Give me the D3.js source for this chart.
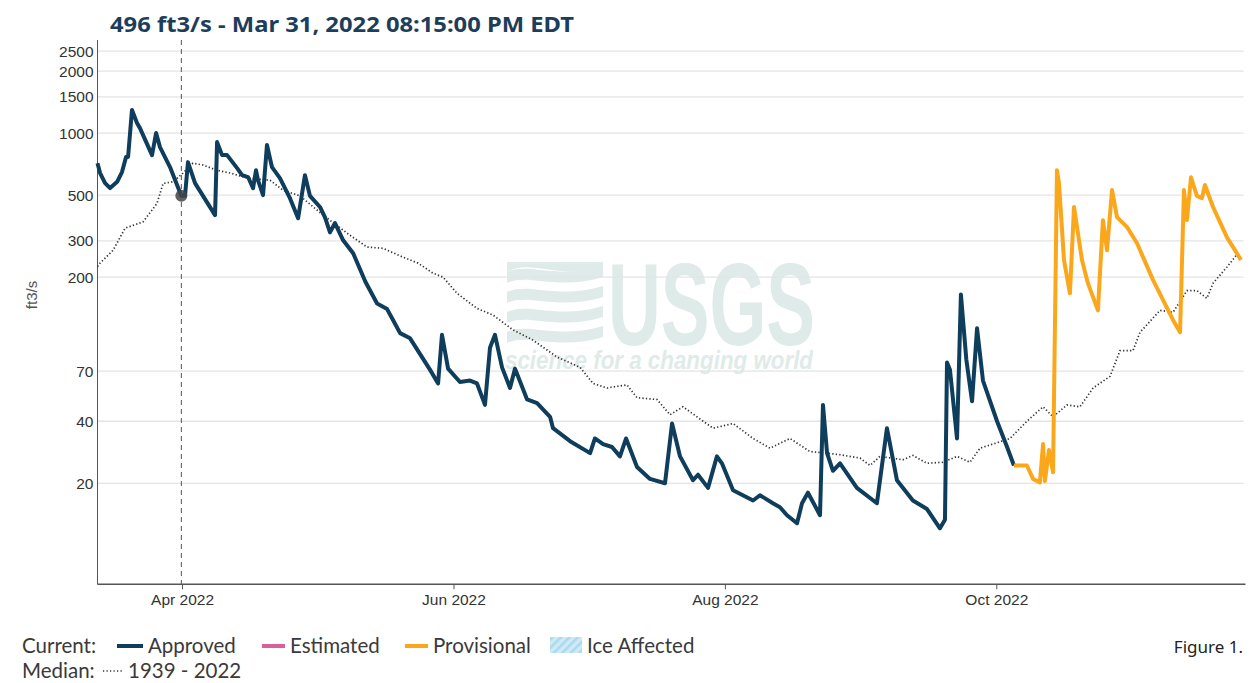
<!DOCTYPE html>
<html>
<head>
<meta charset="utf-8">
<script src="https://cdn.jsdelivr.net/npm/d3@7"></script>
<style>
body { margin: 0; background: #fff; }
svg { display: block; }
</style>
</head>
<body>
<svg id="chart" width="1258" height="683"></svg>
<script>
// discharge, ft3/s
const approved = [
    ["2022-03-13 00", 714], ["2022-03-13 14", 640], ["2022-03-14 17", 572], ["2022-03-15 20", 541],
    ["2022-03-17 10", 580], ["2022-03-18 12", 647], ["2022-03-19 10", 766], ["2022-03-19 21", 766],
    ["2022-03-20 18", 1294], ["2022-03-21 21", 1119], ["2022-03-22 13", 1057], ["2022-03-25 06", 782],
    ["2022-03-26 04", 1000], ["2022-03-27 01", 855], ["2022-03-29 07", 684], ["2022-03-31 20", 496],
    ["2022-04-01 16", 496], ["2022-04-02 08", 723], ["2022-04-03 22", 572], ["2022-04-08 10", 400],
    ["2022-04-08 21", 904], ["2022-04-10 00", 782], ["2022-04-11 03", 782], ["2022-04-13 09", 676],
    ["2022-04-14 12", 625], ["2022-04-15 20", 612], ["2022-04-16 23", 541], ["2022-04-17 15", 660],
    ["2022-04-18 02", 590], ["2022-04-19 05", 500], ["2022-04-20 02", 875], ["2022-04-21 05", 684],
    ["2022-04-23 00", 605], ["2022-04-25 06", 483], ["2022-04-27 02", 386], ["2022-04-28 15", 625],
    ["2022-04-29 18", 496], ["2022-05-02 00", 438], ["2022-05-03 03", 390], ["2022-05-04 06", 330],
    ["2022-05-05 09", 366], ["2022-05-07 05", 302], ["2022-05-09 11", 261], ["2022-05-12 05", 190],
    ["2022-05-14 20", 149], ["2022-05-17 02", 140], ["2022-05-18 10", 124], ["2022-05-20 00", 107],
    ["2022-05-22 06", 101], ["2022-05-26 18", 71], ["2022-05-28 13", 61], ["2022-05-29 10", 105],
    ["2022-05-30 19", 72], ["2022-06-02 11", 62], ["2022-06-04 17", 63], ["2022-06-06 07", 61],
    ["2022-06-08 02", 48], ["2022-06-09 05", 91], ["2022-06-10 08", 105], ["2022-06-11 22", 73],
    ["2022-06-13 17", 58], ["2022-06-14 20", 72], ["2022-06-17 13", 51], ["2022-06-19 19", 49],
    ["2022-06-22 17", 42], ["2022-06-23 09", 37], ["2022-06-27 05", 32], ["2022-07-01 17", 28],
    ["2022-07-02 19", 33], ["2022-07-04 15", 31], ["2022-07-06 15", 30], ["2022-07-08 10", 27],
    ["2022-07-09 19", 33], ["2022-07-12 06", 24], ["2022-07-15 04", 21], ["2022-07-18 13", 20],
    ["2022-07-20 03", 39], ["2022-07-21 22", 27], ["2022-07-24 20", 20.7], ["2022-07-25 23", 22],
    ["2022-07-28 05", 19], ["2022-07-30 05", 27], ["2022-07-31 08", 25], ["2022-08-02 20", 18.5],
    ["2022-08-07 08", 16.5], ["2022-08-08 21", 17.5], ["2022-08-11 19", 16], ["2022-08-13 09", 15.3],
    ["2022-08-14 23", 14], ["2022-08-17 05", 12.8], ["2022-08-18 08", 16], ["2022-08-19 16", 18],
    ["2022-08-22 09", 14], ["2022-08-23 01", 48], ["2022-08-23 23", 28], ["2022-08-25 07", 23],
    ["2022-08-26 21", 25], ["2022-08-30 16", 19], ["2022-09-04 04", 16], ["2022-09-06 10", 37],
    ["2022-09-08 16", 20.7], ["2022-09-12 06", 16.5], ["2022-09-15 10", 15], ["2022-09-18 08", 12.1],
    ["2022-09-19 11", 13.3], ["2022-09-19 22", 77], ["2022-09-20 14", 71], ["2022-09-22 04", 33],
    ["2022-09-23 01", 165], ["2022-09-24 06", 80], ["2022-09-25 13", 50], ["2022-09-26 16", 113],
    ["2022-09-28 00", 63], ["2022-10-01 04", 40], ["2022-10-03 10", 30], ["2022-10-04 23", 24.4]
];

const provisional = [
    ["2022-10-04 23", 24.4], ["2022-10-07 21", 24.4], ["2022-10-09 06", 21], ["2022-10-10 19", 20.2],
    ["2022-10-11 12", 31], ["2022-10-11 22", 20.5], ["2022-10-12 20", 29], ["2022-10-13 18", 22.6],
    ["2022-10-14 15", 661], ["2022-10-15 02", 572], ["2022-10-16 05", 242], ["2022-10-17 13", 167],
    ["2022-10-18 11", 438], ["2022-10-20 06", 242], ["2022-10-21 14", 187], ["2022-10-23 20", 138],
    ["2022-10-24 23", 378], ["2022-10-25 21", 270], ["2022-10-27 00", 529], ["2022-10-28 03", 391],
    ["2022-10-30 09", 350], ["2022-11-01 15", 292], ["2022-11-05 05", 194], ["2022-11-07 11", 155],
    ["2022-11-09 17", 124], ["2022-11-11 07", 108], ["2022-11-12 04", 529], ["2022-11-12 20", 378],
    ["2022-11-13 18", 610], ["2022-11-15 02", 496], ["2022-11-16 05", 483], ["2022-11-16 21", 560],
    ["2022-11-18 17", 438], ["2022-11-21 20", 312], ["2022-11-24 02", 261], ["2022-11-24 23", 242]
];

// daily median 1939 - 2022
const median = [
    ["2022-03-13 00", 225], ["2022-03-13 14", 234], ["2022-03-16 12", 270], ["2022-03-19 05", 346],
    ["2022-03-23 06", 371], ["2022-03-26 09", 456], ["2022-03-27 18", 570], ["2022-03-30 00", 580],
    ["2022-04-01 05", 640], ["2022-04-03 11", 714], ["2022-04-05 17", 700], ["2022-04-08 21", 660],
    ["2022-04-11 19", 640], ["2022-04-15 15", 605], ["2022-04-20 19", 590], ["2022-04-23 17", 528],
    ["2022-04-27 12", 496], ["2022-05-02 17", 400], ["2022-05-08 02", 327], ["2022-05-12 14", 280],
    ["2022-05-16 04", 276], ["2022-05-20 16", 250], ["2022-05-24 01", 234], ["2022-05-27 10", 209],
    ["2022-05-29 16", 200], ["2022-06-01 19", 167], ["2022-06-06 07", 141], ["2022-06-09 21", 131],
    ["2022-06-14 09", 111], ["2022-06-18 21", 99], ["2022-06-24 06", 82], ["2022-06-29 11", 73],
    ["2022-07-02 09", 61], ["2022-07-05 12", 58], ["2022-07-10 00", 60], ["2022-07-12 06", 52],
    ["2022-07-16 18", 51], ["2022-07-19 16", 43], ["2022-07-22 14", 47], ["2022-07-26 10", 41],
    ["2022-07-29 08", 37], ["2022-08-02 20", 39], ["2022-08-07 08", 33], ["2022-08-11 03", 29.6],
    ["2022-08-15 15", 33], ["2022-08-20 03", 28.5], ["2022-08-23 23", 28], ["2022-08-26 21", 27.5],
    ["2022-08-31 09", 26.5], ["2022-09-02 15", 24.4], ["2022-09-04 20", 27], ["2022-09-10 00", 26],
    ["2022-09-12 06", 27.3], ["2022-09-15 10", 25], ["2022-09-19 00", 25.3], ["2022-09-22 04", 27],
    ["2022-09-25 02", 25.3], ["2022-09-27 08", 29.6], ["2022-09-30 06", 31], ["2022-10-04 02", 33],
    ["2022-10-07 21", 40], ["2022-10-11 12", 47], ["2022-10-13 18", 42], ["2022-10-16 21", 48],
    ["2022-10-19 19", 47], ["2022-10-22 18", 58], ["2022-10-26 13", 66], ["2022-10-28 19", 88],
    ["2022-10-31 17", 88], ["2022-11-02 07", 108], ["2022-11-06 19", 138], ["2022-11-09 17", 135],
    ["2022-11-12 20", 172], ["2022-11-15 02", 172], ["2022-11-17 08", 158], ["2022-11-18 17", 187],
    ["2022-11-21 20", 224], ["2022-11-24 07", 261]
];

const yTicks = [20, 40, 70, 200, 300, 500, 1000, 1500, 2000, 2500];
const xTicks = ["2022-04-01", "2022-06-01", "2022-08-01", "2022-10-01"];
const xDomain = ["2022-03-13", "2022-11-26"];
const cursor = { time: "2022-03-31 20:15", value: 496 };
const title = "496 ft3/s - Mar 31, 2022 08:15:00 PM EDT";

const parseHour = d3.timeParse("%Y-%m-%d %H");
const parseDay = d3.timeParse("%Y-%m-%d");
const parseMin = d3.timeParse("%Y-%m-%d %H:%M");

const plotLeft = 97.5, plotRight = 1245.5, plotTop = 40, plotBottom = 584.3;

const x = d3.scaleTime()
    .domain(xDomain.map(parseDay))
    .range([plotLeft, plotRight]);
const y = d3.scaleLog()
    .domain([6.47, 2829])
    .range([plotBottom, plotTop]);

const svg = d3.select('#chart');

// watermark
const wm = svg.append('g').attr('fill', '#dfebe8');
const waves = [0, 1, 2, 3];
waves.forEach(i => {
    const y0 = 266 + i * 20;
    wm.append('path')
        .attr('d', 'M507,' + (y0 + 6) +
            ' C530,' + (y0 - 4) + ' 555,' + (y0 + 14) + ' 603,' + (y0) +
            ' L603,' + (y0 + 11) +
            ' C555,' + (y0 + 25) + ' 530,' + (y0 + 7) + ' 507,' + (y0 + 17) + ' Z');
});
wm.append('path').attr('d', 'M507,262 L603,262 L603,268 C560,280 530,258 507,272 Z');
wm.append('text')
    .attr('x', 608).attr('y', 345)
    .attr('textLength', 207).attr('lengthAdjust', 'spacingAndGlyphs')
    .style('font-family', 'Liberation Sans, Arial, sans-serif')
    .style('font-weight', 'bold')
    .style('font-size', '116px')
    .text('USGS');
wm.append('text')
    .attr('x', 505).attr('y', 369)
    .attr('textLength', 308).attr('lengthAdjust', 'spacingAndGlyphs')
    .style('font-family', 'Liberation Sans, Arial, sans-serif')
    .style('font-weight', 'bold')
    .style('font-style', 'italic')
    .style('font-size', '26px')
    .text('science for a changing world');

// gridlines
svg.append('g')
    .selectAll('line')
    .data(yTicks)
    .enter()
    .append('line')
    .attr('x1', plotLeft).attr('x2', plotRight - 2)
    .attr('y1', d => y(d)).attr('y2', d => y(d))
    .style('stroke', '#e4e4e4')
    .style('stroke-width', '1.3px');

// axes
const yAxis = svg.append('g')
    .attr('transform', 'translate(' + plotLeft + ',0)')
    .call(d3.axisLeft(y).tickValues(yTicks).tickFormat(d3.format('d')).tickSize(0).tickPadding(4));
yAxis.select('.domain').attr('d', 'M0,' + plotTop + 'V' + plotBottom).style('stroke', '#555');
yAxis.selectAll('text')
    .style('font-family', 'Liberation Sans, Arial, sans-serif')
    .style('font-size', '15.5px')
    .style('fill', '#333');

const xAxis = svg.append('g')
    .attr('transform', 'translate(0,' + plotBottom + ')')
    .call(d3.axisBottom(x).tickValues(xTicks.map(parseDay)).tickFormat(d3.timeFormat('%b %Y')).tickSize(5).tickPadding(5));
xAxis.select('.domain').attr('d', 'M' + plotLeft + ',0H' + plotRight).style('stroke', '#555').style('stroke-width', '1.5px');
xAxis.selectAll('.tick line').style('stroke', '#555');
xAxis.selectAll('text')
    .style('font-family', 'Liberation Sans, Arial, sans-serif')
    .style('font-size', '15.5px')
    .style('fill', '#333');

svg.append('text')
    .attr('transform', 'translate(37,295) rotate(-90)')
    .attr('text-anchor', 'middle')
    .style('font-family', 'Liberation Sans, Arial, sans-serif')
    .style('font-size', '15px')
    .style('fill', '#555')
    .text('ft3/s');

// series
const line = d3.line()
    .x(d => x(parseHour(d[0])))
    .y(d => y(d[1]));

svg.append('path')
    .datum(median)
    .attr('d', line)
    .style('fill', 'none')
    .style('stroke', '#333')
    .style('stroke-width', '1.7px')
    .style('stroke-dasharray', '1.3,2.2');

svg.append('path')
    .datum(approved)
    .attr('d', line)
    .style('fill', 'none')
    .style('stroke', '#0f3d5c')
    .style('stroke-width', '4px')
    .style('stroke-linejoin', 'round');

svg.append('path')
    .datum(provisional)
    .attr('d', line)
    .style('fill', 'none')
    .style('stroke', '#fba71b')
    .style('stroke-width', '4px')
    .style('stroke-linejoin', 'round');

// cursor
const cx = x(parseMin(cursor.time));
svg.append('line')
    .attr('x1', cx).attr('x2', cx)
    .attr('y1', plotTop).attr('y2', plotBottom)
    .style('stroke', '#555')
    .style('stroke-width', '1px')
    .style('stroke-dasharray', '5,4');
svg.append('circle')
    .attr('cx', cx).attr('cy', y(cursor.value))
    .attr('r', 6)
    .style('fill', '#444')
    .style('fill-opacity', 0.85);

svg.append('text')
    .attr('x', 110).attr('y', 32)
    .attr('textLength', 464).attr('lengthAdjust', 'spacingAndGlyphs')
    .style('font-family', 'Noto Sans, sans-serif')
    .style('font-weight', 'bold')
    .style('font-size', '22px')
    .style('fill', '#1d3e5a')
    .text(title);

// legend
const defs = svg.append('defs');
const pat = defs.append('pattern')
    .attr('id', 'ice')
    .attr('width', 6).attr('height', 6)
    .attr('patternUnits', 'userSpaceOnUse')
    .attr('patternTransform', 'rotate(-45)');
pat.append('rect').attr('width', 6).attr('height', 6).style('fill', '#cfeaf5');
pat.append('rect').attr('width', 6).attr('height', 2.5).style('fill', '#a9d9ee');

const legend = svg.append('g')
    .style('font-family', 'Lato, Noto Sans, sans-serif')
    .style('font-size', '20.5px')
    .style('fill', '#3a3a3a');
const row1 = 653, row2 = 678;
legend.append('text').attr('x', 22).attr('y', row1).text('Current:');
const items = [
    { label: 'Approved', color: '#0f3d5c', x0: 117, x1: 143 },
    { label: 'Estimated', color: '#d9609a', x0: 262, x1: 285 },
    { label: 'Provisional', color: '#fba71b', x0: 405, x1: 428 }
];
items.forEach(it => {
    legend.append('line')
        .attr('x1', it.x0).attr('x2', it.x1)
        .attr('y1', row1 - 7).attr('y2', row1 - 7)
        .style('stroke', it.color).style('stroke-width', '4px');
    legend.append('text').attr('x', it.x1 + 5).attr('y', row1).text(it.label);
});
legend.append('rect')
    .attr('x', 550).attr('y', 637).attr('width', 32).attr('height', 16)
    .style('fill', 'url(#ice)');
legend.append('text').attr('x', 587).attr('y', row1).text('Ice Affected');
legend.append('text').attr('x', 22).attr('y', row2).text('Median:');
legend.append('line')
    .attr('x1', 103).attr('x2', 123)
    .attr('y1', row2 - 7).attr('y2', row2 - 7)
    .style('stroke', '#333').style('stroke-width', '1.6px').style('stroke-dasharray', '1.2,2.3');
legend.append('text').attr('x', 128).attr('y', row2).text('1939 - 2022');

svg.append('text')
    .attr('x', 1243).attr('y', 653)
    .attr('text-anchor', 'end')
    .style('font-family', 'Noto Sans, sans-serif')
    .style('font-size', '17px')
    .style('fill', '#222')
    .text('Figure 1.');
</script>
</body>
</html>
